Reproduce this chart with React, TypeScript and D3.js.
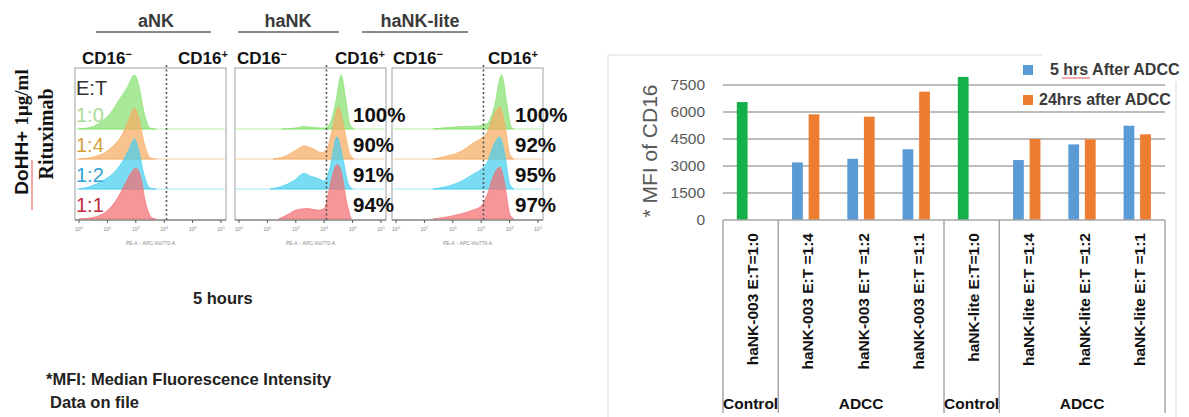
import React from 'react';
import * as d3 from 'd3';

type Pt = [number, number];

// ---------------- Flow cytometry histograms (log10 intensity, relative density) ----------------
const histPanels = ['aNK', 'haNK', 'haNK-lite'];
const ratioLabels = ['1:0', '1:4', '1:2', '1:1'];
const haNKPercents = ['100%', '90%', '91%', '94%'];
const haNKLitePercents = ['100%', '92%', '95%', '97%'];
const decades = [0, 1, 2, 3, 4, 5];

const aNKGreen: Pt[] = [[0, 0], [0.5, 0.05], [0.8, 0.15], [1.1, 0.3], [1.4, 0.55], [1.7, 0.8], [1.95, 1.04], [2.1, 0.85], [2.3, 0.3], [2.5, 0.02], [2.7, 0]];
const aNKOrange: Pt[] = [[0, 0], [0.5, 0.04], [0.9, 0.12], [1.2, 0.25], [1.5, 0.45], [1.75, 0.75], [1.95, 0.98], [2.1, 0.8], [2.3, 0.3], [2.5, 0.03], [2.7, 0]];
const aNKBlue: Pt[] = [[0, 0], [0.4, 0.05], [0.8, 0.15], [1.2, 0.3], [1.5, 0.5], [1.75, 0.75], [1.95, 0.96], [2.1, 0.75], [2.3, 0.25], [2.5, 0.02], [2.7, 0]];
const aNKRed: Pt[] = [[0, 0], [0.5, 0.03], [0.9, 0.12], [1.3, 0.35], [1.6, 0.65], [1.85, 0.9], [2.0, 0.98], [2.15, 0.85], [2.35, 0.3], [2.55, 0.03], [2.7, 0]];

const haNKGreen: Pt[] = [[1.5, 0], [2.0, 0.02], [2.3, 0.05], [2.6, 0.03], [3.0, 0.02], [3.2, 0.1], [3.4, 0.5], [3.6, 1.04], [3.75, 0.6], [3.9, 0.1], [4.05, 0]];
const haNKOrange: Pt[] = [[1.2, 0], [1.6, 0.05], [2.0, 0.17], [2.3, 0.25], [2.6, 0.2], [2.9, 0.12], [3.1, 0.2], [3.3, 0.6], [3.5, 1.0], [3.7, 0.6], [3.9, 0.1], [4.05, 0]];
const haNKBlue: Pt[] = [[1.1, 0], [1.5, 0.05], [1.9, 0.15], [2.3, 0.3], [2.5, 0.25], [2.8, 0.2], [3.0, 0.15], [3.2, 0.4], [3.45, 1.0], [3.65, 0.6], [3.85, 0.1], [4.0, 0]];
const haNKRed: Pt[] = [[1.4, 0], [1.7, 0.08], [2.0, 0.17], [2.4, 0.2], [2.8, 0.17], [3.0, 0.2], [3.15, 0.5], [3.3, 0.85], [3.45, 1.05], [3.6, 0.9], [3.8, 0.3], [3.95, 0]];

const liteGreen: Pt[] = [[1.3, 0], [1.8, 0.03], [2.5, 0.05], [2.9, 0.06], [3.2, 0.1], [3.45, 0.4], [3.72, 1.04], [3.9, 0.5], [4.05, 0.05], [4.15, 0]];
const liteOrange: Pt[] = [[1.3, 0], [1.8, 0.06], [2.3, 0.15], [2.7, 0.3], [3.0, 0.4], [3.2, 0.5], [3.45, 0.85], [3.65, 1.0], [3.85, 0.6], [4.0, 0.1], [4.15, 0]];
const liteBlue: Pt[] = [[1.3, 0], [1.8, 0.05], [2.3, 0.15], [2.7, 0.28], [3.0, 0.38], [3.2, 0.5], [3.45, 0.85], [3.65, 1.0], [3.85, 0.6], [4.0, 0.1], [4.15, 0]];
const liteRed: Pt[] = [[1.3, 0], [1.8, 0.04], [2.3, 0.1], [2.7, 0.17], [3.0, 0.25], [3.2, 0.45], [3.45, 0.85], [3.65, 1.0], [3.85, 0.6], [4.0, 0.1], [4.15, 0]];

const panelCurves: Pt[][][] = [
  [aNKGreen, aNKOrange, aNKBlue, aNKRed],
  [haNKGreen, haNKOrange, haNKBlue, haNKRed],
  [liteGreen, liteOrange, liteBlue, liteRed],
];
const gateLog = 3.08;

// ---------------- Bar chart data ----------------
const categories = [
  'haNK-003 E:T=1:0',
  'haNK-003 E:T =1:4',
  'haNK-003 E:T =1:2',
  'haNK-003 E:T =1:1',
  'haNK-lite E:T=1:0',
  'haNK-lite E:T =1:4',
  'haNK-lite E:T =1:2',
  'haNK-lite E:T =1:1',
];
const groupLabels = ['Control', 'ADCC', 'Control', 'ADCC'];
const groupSizes = [1, 3, 1, 3];
const fiveHrs = [6550, 3200, 3400, 3930, 7950, 3330, 4200, 5240];
const twentyFourHrs: (number | null)[] = [null, 5870, 5740, 7130, null, 4500, 4480, 4760];
const controlFlags = [true, false, false, false, true, false, false, false];
const yTicks = [0, 1500, 3000, 4500, 6000, 7500];
const seriesNames = ['5 hrs After ADCC', '24hrs after ADCC'];

const SANS = '"Liberation Sans", Arial, sans-serif';
const SERIF = '"Liberation Serif", "Times New Roman", serif';

const rowFill = ['#86E070', '#F6AC62', '#45CFEE', '#F26E72'];
const rowLine = ['#B9EFA8', '#F9CFA8', '#A8E6F5', '#F6B2B2'];
const rowLabelColor = ['#A8DC96', '#D2A23C', '#2FA6D6', '#C4283A'];

const BLUE = '#5B9BD5';
const ORANGE = '#ED7D31';
const GREEN = '#16B04A';

function Histograms() {
  const panelLefts = [75, 235, 392];
  const panelW = 151;
  const panelTop = 68;
  const axisY = 220;
  const rowBase = (i: number) => 129 + 30 * i;
  const peakH = 52;
  const cdLabels = [
    [82, 178],
    [237, 335],
    [393, 488],
  ];
  const headers = [
    { x1: 96, x2: 211, cx: 156 },
    { x1: 238, x2: 339, cx: 288 },
    { x1: 362, x2: 468, cx: 420 },
  ];
  return (
    <g>
      {histPanels.map((name, p) => (
        <g key={name}>
          <text x={headers[p].cx} y={27} textAnchor="middle" fontFamily={SANS} fontWeight="bold" fontSize={18} fill="#3A3A3A">
            {name}
          </text>
          <line x1={headers[p].x1} x2={headers[p].x2} y1={32} y2={32} stroke="#8A8A8A" strokeWidth={2} />
          <text x={cdLabels[p][0]} y={64} fontFamily={SANS} fontWeight="bold" fontSize={17} fill="#111">
            CD16<tspan fontSize={11} dy={-6}>−</tspan>
          </text>
          <text x={cdLabels[p][1]} y={64} fontFamily={SANS} fontWeight="bold" fontSize={17} fill="#111">
            CD16<tspan fontSize={11} dy={-6}>+</tspan>
          </text>
        </g>
      ))}
      {panelLefts.map((left, p) => {
        const x = d3.scaleLinear([0, 5], [left + 4, left + 146]);
        const gx = x(gateLog);
        return (
          <g key={p}>
            <rect x={left} y={panelTop} width={panelW} height={axisY - panelTop} fill="none" stroke="#A0A0A0" strokeWidth={1} />
            {panelCurves[p].map((curve, i) => {
              const base = rowBase(i);
              const area = d3
                .area<Pt>()
                .x((d) => x(d[0]))
                .y0(base)
                .y1((d) => base - d[1] * peakH)
                .curve(d3.curveMonotoneX);
              return (
                <g key={i}>
                  {i < 3 && <line x1={left} x2={left + panelW} y1={base} y2={base} stroke={rowLine[i]} strokeWidth={1} />}
                  <path d={area(curve) || ''} fill={rowFill[i]} fillOpacity={0.72} stroke={rowFill[i]} strokeOpacity={0.9} strokeWidth={0.8} />
                </g>
              );
            })}
            <line x1={gx} x2={gx} y1={panelTop - 3} y2={axisY} stroke="#555" strokeWidth={1.6} strokeDasharray="2,2.5" />
            <line x1={left} x2={left + panelW} y1={axisY} y2={axisY} stroke="#777" strokeWidth={1} />
            {decades.map((dcd) => (
              <g key={dcd}>
                <line x1={x(dcd)} x2={x(dcd)} y1={axisY} y2={axisY + 3} stroke="#555" strokeWidth={1} />
                <text x={x(dcd)} y={231} textAnchor="middle" fontFamily={SANS} fontSize={5} fill="#888">
                  10<tspan dy={-2} fontSize={4}>{dcd}</tspan>
                </text>
              </g>
            ))}
            <text x={left + panelW / 2} y={245} textAnchor="middle" fontFamily={SANS} fontSize={5} fill="#888">
              PE-A :: APC-Vio770-A
            </text>
          </g>
        );
      })}
      <text x={76} y={95} fontFamily={SANS} fontSize={20} fill="#333">E:T</text>
      {ratioLabels.map((r, i) => (
        <text key={r} x={76} y={rowBase(i) - 7} fontFamily={SANS} fontSize={20} fill={rowLabelColor[i]}>
          {r}
        </text>
      ))}
      {haNKPercents.map((t, i) => (
        <text key={'h' + i} x={353} y={rowBase(i) - 7} fontFamily={SANS} fontWeight="bold" fontSize={20.5} fill="#111">
          {t}
        </text>
      ))}
      {haNKLitePercents.map((t, i) => (
        <text key={'l' + i} x={515} y={rowBase(i) - 7} fontFamily={SANS} fontWeight="bold" fontSize={20.5} fill="#111">
          {t}
        </text>
      ))}
      <g transform="translate(28,132) rotate(-90)">
        <text textAnchor="middle" fontWeight="bold" fontSize={19} fill="#111" fontFamily={SANS}>
          <tspan fontFamily={SANS}>DoHH+ </tspan>
          <tspan fontFamily={SERIF}>1μg/ml</tspan>
        </text>
      </g>
      <line x1={32} x2={32} y1={160} y2={210} stroke="#E05050" strokeWidth={1} />
      <g transform="translate(53,134) rotate(-90)">
        <text textAnchor="middle" fontFamily={SERIF} fontWeight="bold" fontSize={20} fill="#111">
          Rituximab
        </text>
      </g>
      <text x={193} y={304} fontFamily={SANS} fontWeight="bold" fontSize={16.5} fill="#222">5 hours</text>
      <text x={46} y={385} fontFamily={SANS} fontWeight="bold" fontSize={16.5} fill="#222">*MFI: Median Fluorescence Intensity</text>
      <text x={50} y={408} fontFamily={SANS} fontWeight="bold" fontSize={16.5} fill="#222">Data on file</text>
    </g>
  );
}

function BarChart() {
  const plotL = 723;
  const plotR = 1165;
  const y = d3.scaleLinear([0, 7500], [220, 85]);
  const x = d3.scaleBand<string>(categories, [plotL, plotR]);
  const bw = x.bandwidth();
  const xs = d3.scaleBand<string>(['a', 'b'], [bw * 0.25, bw * 0.745]).paddingInner(0.35);
  const bottom = y(0);
  const boundaries: number[] = [0];
  groupSizes.forEach((s) => boundaries.push(boundaries[boundaries.length - 1] + s));
  const posAt = (i: number) => plotL + i * bw;
  return (
    <g>
      <rect x={608} y={55} width={568} height={380} fill="none" stroke="#D9D9D9" strokeWidth={1} />
      <rect x={1042} y={50} width={147} height={32} fill="#fff" />
      {yTicks.map((t) => (
        <g key={t}>
          {t > 0 && <line x1={plotL} x2={plotR} y1={y(t)} y2={y(t)} stroke="#A6A6A6" strokeWidth={1.5} />}
          <text x={705} y={y(t)} dy="0.35em" textAnchor="end" fontFamily={SANS} fontSize={15.5} fill="#595959">
            {t}
          </text>
        </g>
      ))}
      <g transform="translate(650,151) rotate(-90)">
        <text textAnchor="middle" dy="0.35em" fontFamily={SANS} fontSize={21} fill="#595959">
          * MFI of CD16
        </text>
      </g>
      {categories.map((c, i) => (
        <g key={c}>
          <rect
            x={(x(c) as number) + (xs('a') as number)}
            y={y(fiveHrs[i])}
            width={xs.bandwidth()}
            height={bottom - y(fiveHrs[i])}
            fill={controlFlags[i] ? GREEN : BLUE}
          />
          {twentyFourHrs[i] != null && (
            <rect
              x={(x(c) as number) + (xs('b') as number)}
              y={y(twentyFourHrs[i] as number)}
              width={xs.bandwidth()}
              height={bottom - y(twentyFourHrs[i] as number)}
              fill={ORANGE}
            />
          )}
          <g transform={`translate(${(x(c) as number) + bw / 2 + 2},233) rotate(-90)`}>
            <text textAnchor="end" dy="0.35em" fontFamily={SANS} fontWeight="bold" fontSize={15.5} fill="#111">
              {c}
            </text>
          </g>
        </g>
      ))}
      <line x1={plotL} x2={plotR} y1={bottom} y2={bottom} stroke="#A6A6A6" strokeWidth={1.5} />
      {boundaries.map((b, i) => (
        <line key={i} x1={posAt(b)} x2={posAt(b)} y1={bottom} y2={413} stroke="#A6A6A6" strokeWidth={1.5} />
      ))}
      {groupLabels.map((g, i) => (
        <text
          key={i}
          x={(posAt(boundaries[i]) + posAt(boundaries[i + 1])) / 2}
          y={409}
          textAnchor="middle"
          fontFamily={SANS}
          fontWeight="bold"
          fontSize={15.5}
          fill="#111"
        >
          {g}
        </text>
      ))}
      <rect x={1023} y={65} width={10} height={10} fill={BLUE} />
      <text x={1050} y={75} fontFamily={SANS} fontWeight="bold" fontSize={16} fill="#3A3A3A">
        {seriesNames[0]}
      </text>
      <line x1={1062} x2={1090} y1={78} y2={78} stroke="#E05050" strokeWidth={1} />
      <rect x={1023} y={95} width={10} height={10} fill={ORANGE} />
      <text x={1039} y={105} fontFamily={SANS} fontWeight="bold" fontSize={16} fill="#3A3A3A">
        {seriesNames[1]}
      </text>
    </g>
  );
}

export default function App() {
  return (
    <svg
      width={1189}
      height={417}
      viewBox="0 0 1189 417"
      style={{ position: 'absolute', left: 0, top: 0, background: '#fff' }}
    >
      <rect x={0} y={0} width={1189} height={417} fill="#fff" />
      <Histograms />
      <BarChart />
    </svg>
  );
}
